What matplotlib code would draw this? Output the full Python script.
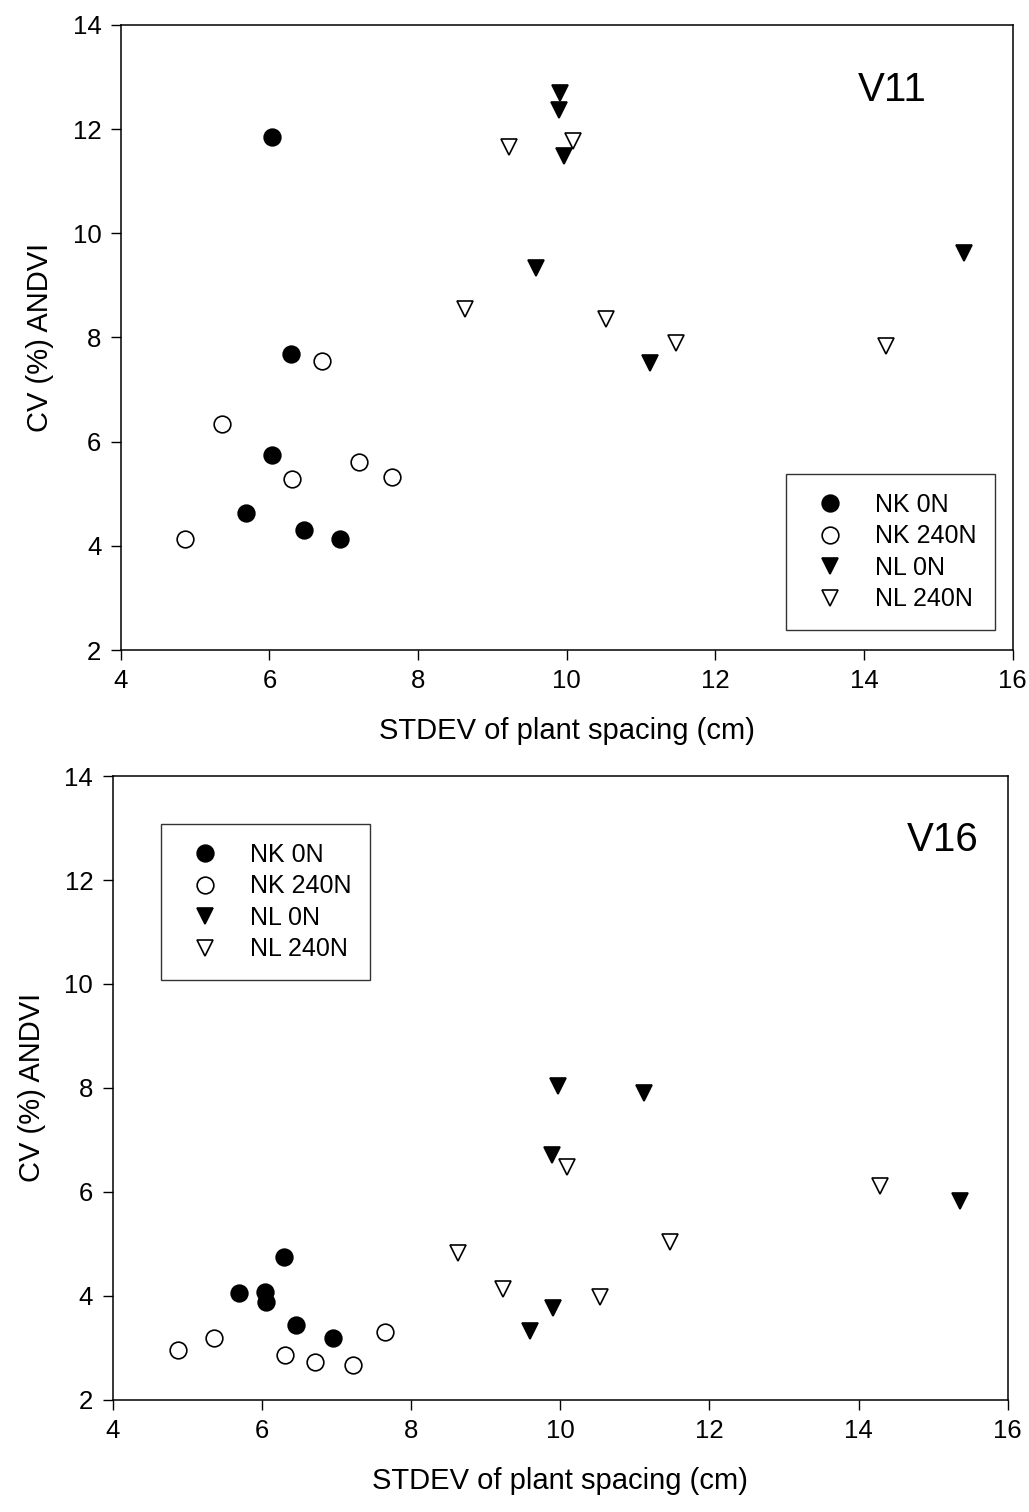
import matplotlib
matplotlib.use('Agg')
import matplotlib.pyplot as plt

plt.rcParams['font.family'] = ['Liberation Sans', 'DejaVu Sans']

# V11 stage
v11_nk0_x = [6.04, 6.29, 6.03, 5.69, 6.46, 6.95]
v11_nk0_y = [11.85, 7.69, 5.74, 4.63, 4.31, 4.14]
v11_nk240_x = [6.71, 5.36, 6.31, 7.21, 7.65, 4.86]
v11_nk240_y = [7.54, 6.34, 5.28, 5.61, 5.33, 4.14]
v11_nl0_x = [9.91, 9.90, 9.97, 9.59, 11.12, 15.35]
v11_nl0_y = [12.69, 12.36, 11.48, 9.33, 7.51, 9.62]
v11_nl240_x = [9.23, 10.09, 8.63, 10.53, 11.47, 14.29]
v11_nl240_y = [11.66, 11.77, 8.55, 8.35, 7.89, 7.83]

# V16 stage
v16_nk0_x = [6.30, 5.70, 6.04, 6.05, 6.46, 6.96]
v16_nk0_y = [4.74, 4.06, 4.07, 3.87, 3.43, 3.18]
v16_nk240_x = [4.87, 5.36, 6.31, 6.71, 7.22, 7.65]
v16_nk240_y = [2.96, 3.18, 2.86, 2.73, 2.66, 3.31]
v16_nl0_x = [9.97, 11.12, 9.89, 9.90, 9.59, 15.36]
v16_nl0_y = [8.03, 7.91, 6.71, 3.77, 3.33, 5.83]
v16_nl240_x = [10.09, 14.29, 11.47, 9.23, 10.53, 8.63]
v16_nl240_y = [6.47, 6.11, 5.03, 4.13, 3.98, 4.82]

labels = ['NK 0N', 'NK 240N', 'NL 0N', 'NL 240N']
xticks = [4, 6, 8, 10, 12, 14, 16]
yticks = [2, 4, 6, 8, 10, 12, 14]

fig = plt.figure(figsize=(10.29, 15.12), dpi=100)
ax1 = fig.add_axes([0.1173, 0.5701, 0.8669, 0.4134])
ax2 = fig.add_axes([0.1095, 0.0743, 0.8698, 0.4124])

panels = [
    (ax1, 'V11', (0.865, 0.896),
     [(v11_nk0_x, v11_nk0_y), (v11_nk240_x, v11_nk240_y),
      (v11_nl0_x, v11_nl0_y), (v11_nl240_x, v11_nl240_y)],
     dict(loc='lower right', bbox_to_anchor=(0.980, 0.032))),
    (ax2, 'V16', (0.927, 0.897),
     [(v16_nk0_x, v16_nk0_y), (v16_nk240_x, v16_nk240_y),
      (v16_nl0_x, v16_nl0_y), (v16_nl240_x, v16_nl240_y)],
     dict(loc='upper left', bbox_to_anchor=(0.054, 0.923))),
]

styles = [('o', 'black'), ('o', 'white'), ('v', 'black'), ('v', 'white')]

for ax, stage, pos, series, legkw in panels:
    for (x, y), (m, fc), lab in zip(series, styles, labels):
        ax.plot(x, y, linestyle='none', marker=m, ms=12, mfc=fc,
                mec='black', mew=1.2, label=lab)
    ax.set_xlim(4, 16)
    ax.set_ylim(2, 14)
    ax.set_xticks(xticks)
    ax.set_yticks(yticks)
    ax.tick_params(direction='out', length=7, width=1, labelsize=18.5, pad=7)
    for s in ax.spines.values():
        s.set_linewidth(1.1)
    ax.set_xlabel('STDEV of plant spacing (cm)', fontsize=21, labelpad=17)
    ax.set_ylabel('CV (%) ANDVI', fontsize=21, labelpad=13)
    ax.text(pos[0], pos[1], stage, transform=ax.transAxes, fontsize=29,
            ha='center', va='center')
    leg = ax.legend(fontsize=18, frameon=True, fancybox=False, borderaxespad=0,
                    borderpad=0.75, labelspacing=0.3, handlelength=2.0,
                    handletextpad=0.8, **legkw)
    leg.get_frame().set_edgecolor('black')
    leg.get_frame().set_linewidth(1.0)

fig.savefig('out.png', dpi=100)
